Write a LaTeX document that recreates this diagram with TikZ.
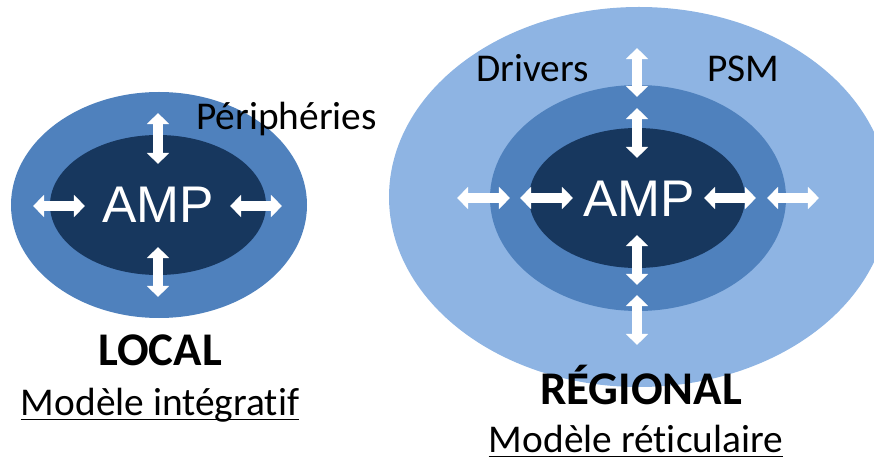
\documentclass[tikz,border=0pt]{standalone}
\usepackage{fontspec}
\setmainfont{Carlito}[Ligatures=NoCommon]
\newfontfamily\arialfont{Liberation Sans}
\usetikzlibrary{arrows.meta}

\definecolor{ampDark}{HTML}{17375E}
\definecolor{ampMid}{HTML}{4F81BD}
\definecolor{ampLight}{HTML}{8EB4E3}

\tikzset{
  dblarrow/.style={white, line width=8.5pt,
    {Triangle[length=9.5pt,width=18.5pt]}-{Triangle[length=9.5pt,width=18.5pt]}},
  lbl/.style={inner sep=0pt, font=\fontsize{33.6}{40}\selectfont},
  title/.style={inner sep=0pt, font=\fontsize{40}{48}\selectfont\bfseries},
  amptxt/.style={inner sep=0pt, text=white, font=\arialfont\fontsize{44}{52}\selectfont}
}

\begin{document}
\begin{tikzpicture}[x=0.03cm,y=-0.03cm]
\useasboundingbox (0,0) rectangle (874,459);
\clip (0,0) rectangle (874,459);

%local
\fill[ampMid]  (159,205) ellipse [x radius=148, y radius=113];
\fill[ampDark] (158,205) ellipse [x radius=108, y radius=70];

%regional
\fill[ampLight] (639,197) ellipse [x radius=250, y radius=190];
\fill[ampMid]   (638,198) ellipse [x radius=148, y radius=113];
\fill[ampDark]  (637,198) ellipse [x radius=108, y radius=70];

\draw[dblarrow] (158,113) -- (158,164);
\draw[dblarrow] (158,247) -- (158,297);
\draw[dblarrow] (33,206)  -- (85,206);
\draw[dblarrow] (230,206) -- (282,206);

\draw[dblarrow] (637,48)  -- (637,97);
\draw[dblarrow] (637,108) -- (637,158);
\draw[dblarrow] (637,235) -- (637,285);
\draw[dblarrow] (637,295) -- (637,345);
\draw[dblarrow] (457,198) -- (510,198);
\draw[dblarrow] (520,198) -- (573,198);
\draw[dblarrow] (704,198) -- (756,198);
\draw[dblarrow] (767,198) -- (819,198);

\node[amptxt,anchor=base] (ampL) at (158,223) {AMP};
\node[amptxt,anchor=base] (ampR) at (639,217) {AMP};

\node[lbl,anchor=base west] (peri)    at (196,130) {Périphéries};
\node[lbl,anchor=base west] (drivers) at (476,82)  {Drivers};
\node[lbl,anchor=base west] (psm)     at (707,82)  {PSM};

\node[title,anchor=base] (local)  at (160,365) {LOCAL};
\node[lbl,anchor=base]   (integ)  at (160,415) {Modèle intégratif};
\node[title,anchor=base] (region) at (641,404) {RÉGIONAL};
\node[lbl,anchor=base]   (retic)  at (636,452) {Modèle réticulaire};

\draw[line width=1.4pt] ([yshift=-3.8pt]integ.base west) -- ([yshift=-3.8pt]integ.base east);
\draw[line width=1.4pt] ([yshift=-3.8pt]retic.base west) -- ([yshift=-3.8pt]retic.base east);

\end{tikzpicture}
\end{document}
